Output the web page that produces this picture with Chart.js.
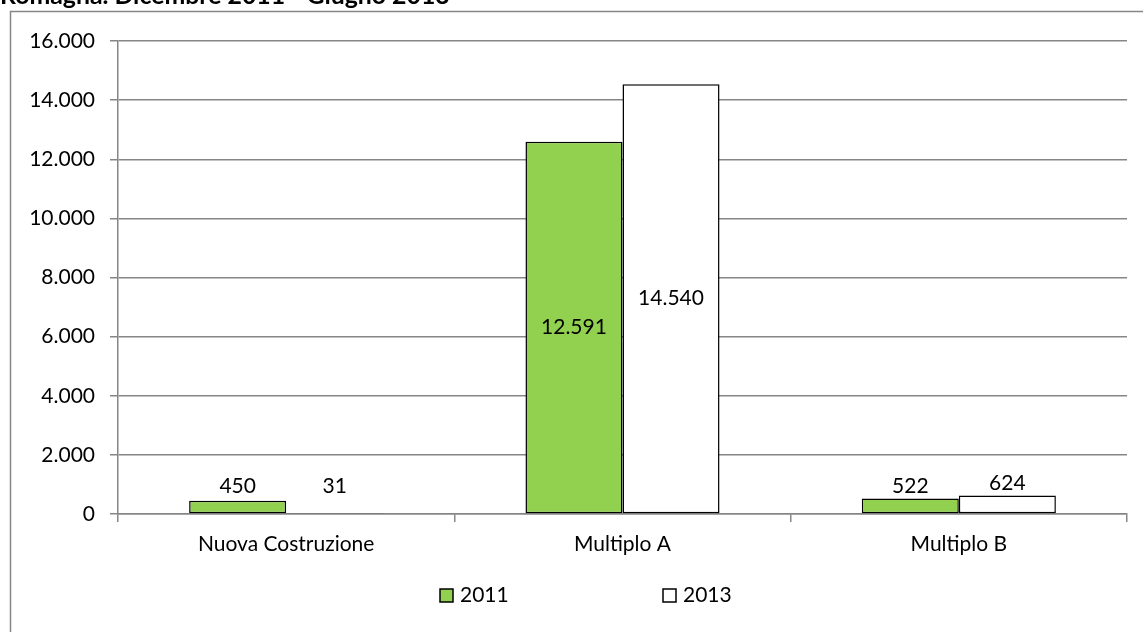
<!DOCTYPE html>
<html>
<head>
<meta charset="utf-8">
<script src="https://cdn.jsdelivr.net/npm/chart.js@4/dist/chart.umd.min.js"></script>
<style>
  html, body { margin: 0; padding: 0; background: #fff; }
  #wrap { width: 1143px; height: 632px; position: relative; }
</style>
</head>
<body>
<div id="wrap"><canvas id="c" width="1143" height="632"></canvas></div>
<script>
const titleText = "Romagna. Dicembre 2011 - Giugno 2013";
const categories = ["Nuova Costruzione", "Multiplo A", "Multiplo B"];
const seriesNames = ["2011", "2013"];
const values2011 = [450, 12591, 522];
const values2013 = [31, 14540, 624];
const yTicks = [0, 2000, 4000, 6000, 8000, 10000, 12000, 14000, 16000];

const FONT = "Lato, 'Open Sans', sans-serif";
const FS = 21;
const GRID = "#868686";

function fmt(v) {
  return String(Math.round(v)).replace(/\B(?=(\d{3})+(?!\d))/g, ".");
}

const framePlugin = {
  id: "frame",
  beforeDraw(chart) {
    const ctx = chart.ctx;
    ctx.save();
    ctx.fillStyle = "#fff";
    ctx.fillRect(0, 0, chart.width, chart.height);
    ctx.strokeStyle = GRID;
    ctx.lineWidth = 1.5;
    ctx.beginPath();
    ctx.moveTo(10.5, chart.height + 2);
    ctx.lineTo(10.5, 11.5);
    ctx.lineTo(chart.width + 2, 11.5);
    ctx.stroke();
    let size = 22;
    ctx.font = "bold " + size + "px " + FONT;
    const w = ctx.measureText(titleText).width;
    size = size * 450 / w;
    ctx.font = "bold " + size + "px " + FONT;
    ctx.fillStyle = "#000";
    ctx.textBaseline = "alphabetic";
    ctx.textAlign = "left";
    ctx.fillText(titleText, 0, 4);
    ctx.restore();
  }
};

const labelPlugin = {
  id: "valueLabels",
  afterDatasetsDraw(chart) {
    const ctx = chart.ctx;
    ctx.save();
    ctx.font = FS + "px " + FONT;
    ctx.fillStyle = "#000";
    ctx.textAlign = "center";
    chart.data.datasets.forEach((ds, di) => {
      const meta = chart.getDatasetMeta(di);
      meta.data.forEach((bar, i) => {
        const v = ds.data[i];
        const h = bar.base - bar.y;
        if (h > 60) {
          ctx.textBaseline = "middle";
          ctx.fillText(fmt(v), bar.x, (bar.y + bar.base) / 2);
        } else {
          ctx.textBaseline = "alphabetic";
          const top = Math.min(bar.y, bar.base - 14);
          ctx.fillText(fmt(v), bar.x, top - 6);
        }
      });
    });
    ctx.restore();
  }
};

const legendPlugin = {
  id: "customLegend",
  afterDraw(chart) {
    const ctx = chart.ctx;
    const starts = [440, 663];
    const cy = 595.5;
    ctx.save();
    ctx.font = FS + "px " + FONT;
    ctx.textBaseline = "middle";
    ctx.textAlign = "left";
    chart.data.datasets.forEach((ds, i) => {
      const x = starts[i];
      ctx.fillStyle = ds.backgroundColor;
      ctx.fillRect(x, cy - 6.5, 13, 13);
      ctx.strokeStyle = "#000";
      ctx.lineWidth = 1.5;
      ctx.strokeRect(x, cy - 6.5, 13, 13);
      ctx.fillStyle = "#000";
      ctx.fillText(ds.label, x + 20, cy);
    });
    ctx.restore();
  }
};

new Chart(document.getElementById("c"), {
  type: "bar",
  data: {
    labels: categories,
    datasets: [
      { label: seriesNames[0], data: values2011, backgroundColor: "#92D050", borderColor: "#000", borderWidth: 1.5, borderSkipped: false },
      { label: seriesNames[1], data: values2013, backgroundColor: "#FFFFFF", borderColor: "#000", borderWidth: 1.5, borderSkipped: false }
    ]
  },
  options: {
    responsive: false,
    animation: false,
    devicePixelRatio: 1,
    layout: { padding: { top: 41, right: 16, left: 10, bottom: 68 } },
    datasets: { bar: { categoryPercentage: 0.577, barPercentage: 1.0 } },
    plugins: {
      legend: { display: false },
      tooltip: { enabled: false },
      title: { display: false }
    },
    scales: {
      x: {
        offset: true,
        afterFit(s) { s.height = 50; },
        grid: { drawOnChartArea: false, drawTicks: true, tickLength: 8, color: GRID, lineWidth: 1.5, offset: true },
        border: { display: true, color: GRID, width: 1.5 },
        ticks: { color: "#000", font: { family: FONT, size: FS }, padding: 10, maxRotation: 0 }
      },
      y: {
        min: 0,
        max: 16000,
        afterFit(s) { s.width = 108; },
        afterBuildTicks(s) { s.ticks = yTicks.map(v => ({ value: v })); },
        grid: { color: GRID, lineWidth: 1.5, tickLength: 8, drawTicks: true },
        border: { display: true, color: GRID, width: 1.5 },
        ticks: { color: "#000", font: { family: FONT, size: FS }, padding: 15, callback: v => fmt(v) }
      }
    }
  },
  plugins: [framePlugin, labelPlugin, legendPlugin]
});
</script>
</body>
</html>
